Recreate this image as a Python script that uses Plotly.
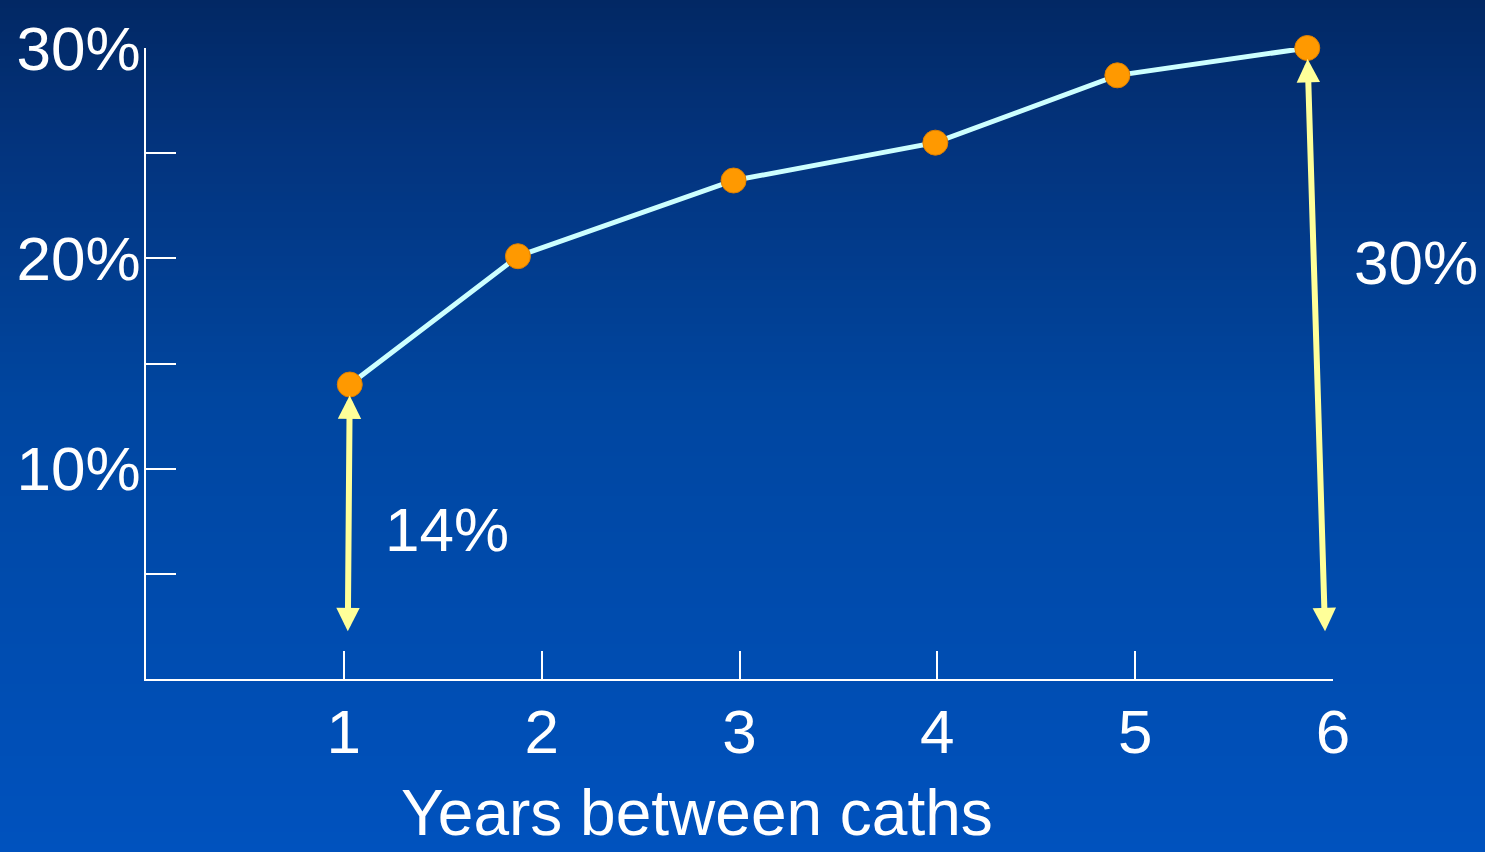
import plotly.graph_objects as go

# Progression rate by interval between catheterisations
years = [1.03, 1.88, 2.97, 3.99, 4.91, 5.87]
rate_pct = [14, 20.1, 23.7, 25.5, 28.7, 30]

x_ticks = [1, 2, 3, 4, 5, 6]
y_ticks = [10, 20, 30]
y_tick_text = ["10%", "20%", "30%"]

callouts = [
    {"text": "14%", "point": 0, "tail_x": 1.02, "label_x": 1.52, "label_y": 7.1},
    {"text": "30%", "point": 5, "tail_x": 5.96, "label_x": 6.42, "label_y": 19.8},
]

X_RANGE = [0, 6]
Y_RANGE = [0, 30]

W, H = 1485, 852
L, R, T, B = 146, 152, 48, 173
plot_w, plot_h = W - L - R, H - T - B

FONT = "Liberation Sans, Arial, sans-serif"
WHITE = "#ffffff"
ARROW = "#ffff99"

fig = go.Figure()

# Vertical background gradient built from thin bands covering the page
stops = [(0, (2, 40, 100)), (150, (3, 52, 126)), (400, (0, 70, 160)), (852, (0, 82, 190))]


def colour_at(py):
    for (p0, c0), (p1, c1) in zip(stops[:-1], stops[1:]):
        if p0 <= py <= p1:
            t = (py - p0) / (p1 - p0)
            return "rgb(%d,%d,%d)" % tuple(round(a + (b - a) * t) for a, b in zip(c0, c1))
    return "rgb(%d,%d,%d)" % stops[-1][1]


band = 4
shapes = []
for top in range(-8, H + 8, band):
    bottom = top + band + 1
    shapes.append(dict(
        type="rect", xref="paper", yref="paper", layer="below",
        x0=-(L + 40) / plot_w, x1=(W - L + 40) / plot_w,
        y0=(H - B - bottom) / plot_h, y1=(H - B - top) / plot_h,
        fillcolor=colour_at(min(max(top + band / 2, 0), H)), line=dict(width=0),
    ))

fig.add_trace(go.Scatter(
    x=years, y=rate_pct, mode="lines+markers",
    line=dict(color="#ccffff", width=5),
    marker=dict(color="#ff9900", size=25, line=dict(color="#e08000", width=1)),
    cliponaxis=False, hoverinfo="skip", showlegend=False,
))

annotations = []
for c in callouts:
    i = c["point"]
    annotations.append(dict(
        x=years[i], y=rate_pct[i], xref="x", yref="y",
        ax=c["tail_x"], ay=2.2, axref="x", ayref="y",
        text="", showarrow=True, arrowside="end+start",
        arrowhead=2, startarrowhead=2, arrowsize=0.78, startarrowsize=0.78,
        arrowwidth=6, arrowcolor=ARROW, standoff=11,
    ))
    # labels may sit outside the axis range, so place them in paper units
    annotations.append(dict(
        x=(c["label_x"] - X_RANGE[0]) / (X_RANGE[1] - X_RANGE[0]),
        y=(c["label_y"] - Y_RANGE[0]) / (Y_RANGE[1] - Y_RANGE[0]),
        xref="paper", yref="paper", xanchor="center", yanchor="middle",
        text=c["text"], showarrow=False,
        font=dict(family=FONT, size=62, color=WHITE),
    ))

# axis title, positioned in paper units under the plot
annotations.append(dict(
    x=(697 - L) / plot_w, y=(H - B - 813) / plot_h, xref="paper", yref="paper",
    xanchor="center", yanchor="middle", text="Years between caths",
    showarrow=False, font=dict(family=FONT, size=64, color=WHITE),
))

fig.update_layout(
    width=W, height=H,
    margin=dict(l=L, r=R, t=T, b=B, pad=0),
    paper_bgcolor="rgb(0,60,150)", plot_bgcolor="rgba(0,0,0,0)",
    shapes=shapes, annotations=annotations,
    font=dict(family=FONT, color=WHITE),
    xaxis=dict(
        range=X_RANGE, tickvals=x_ticks, ticks="inside", ticklen=28,
        tickwidth=2, tickcolor=WHITE, showline=True, linecolor=WHITE,
        linewidth=2, showgrid=False, zeroline=False,
        tickfont=dict(family=FONT, size=62, color=WHITE), ticklabelstandoff=-2,
    ),
    yaxis=dict(
        range=Y_RANGE, tickvals=y_ticks, ticktext=y_tick_text, ticks="inside",
        ticklen=30, tickwidth=2, tickcolor=WHITE, showline=True,
        linecolor=WHITE, linewidth=2, showgrid=False, zeroline=False,
        tickfont=dict(family=FONT, size=62, color=WHITE), ticklabelstandoff=-9,
        minor=dict(dtick=5, ticks="inside", ticklen=30, tickwidth=2,
                   tickcolor=WHITE, showgrid=False),
    ),
)

fig.write_html("out.html")
